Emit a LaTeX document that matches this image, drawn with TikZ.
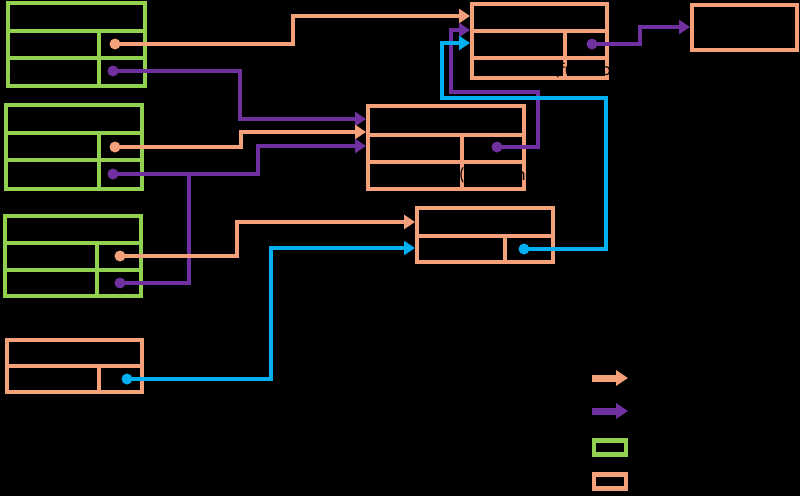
\documentclass[tikz,border=0pt]{standalone}
\usepackage{fontspec}
\setmainfont{Carlito}
\newfontfamily\cjk{Noto Sans CJK SC}
\usetikzlibrary{arrows.meta}
\definecolor{cgreen}{HTML}{92D050}
\definecolor{corange}{HTML}{F4A07A}
\definecolor{cpurple}{HTML}{7030A0}
\definecolor{cblue}{HTML}{00B0F0}
\begin{document}
\begin{tikzpicture}[x=1pt,y=-1pt,
  gbox/.style={draw=cgreen, line width=4pt, outer sep=0pt, inner sep=0pt},
  obox/.style={draw=corange, line width=4pt, outer sep=0pt, inner sep=0pt},
  gdiv/.style={draw=cgreen, line width=4pt},
  odiv/.style={draw=corange, line width=4pt},
  lbl/.style={font=\fontsize{18}{20}\selectfont, text=black, inner sep=0pt},
  leg/.style={font=\cjk\fontsize{15}{17}\selectfont, text=black, inner sep=0pt, anchor=west},
  conn/.style={line width=4.6pt, line join=miter},
  tip/.style={-{Triangle[length=11pt,width=14pt]}},
  oline/.style={conn, draw=corange},
  pline/.style={conn, draw=cpurple},
  bline/.style={conn, draw=cblue},
  odot/.style={circle, fill=corange, minimum size=11pt, inner sep=0pt},
  pdot/.style={circle, fill=cpurple, minimum size=11pt, inner sep=0pt},
  bdot/.style={circle, fill=cblue, minimum size=11pt, inner sep=0pt},
]
\fill[black] (0,0) rectangle (800,496);
\useasboundingbox (0,0) rectangle (800,496);

% ---------- boxes ----------
\node[gbox, minimum width=137pt, minimum height=83pt] (objBox) at (76,44) {};
\draw[gdiv] (objBox.west |- 0,31) -- (objBox.east |- 0,31);
\draw[gdiv] (objBox.west |- 0,58) -- (objBox.east |- 0,58);
\draw[gdiv] (99,31) -- (objBox.south -| 99,0);

\node[gbox, minimum width=136pt, minimum height=84pt] (funBox) at (73.5,146.5) {};
\draw[gdiv] (funBox.west |- 0,133) -- (funBox.east |- 0,133);
\draw[gdiv] (funBox.west |- 0,160) -- (funBox.east |- 0,160);
\draw[gdiv] (99,133) -- (funBox.south -| 99,0);

\node[gbox, minimum width=136pt, minimum height=80pt] (fBox) at (72.5,255.5) {};
\draw[gdiv] (fBox.west |- 0,243) -- (fBox.east |- 0,243);
\draw[gdiv] (fBox.west |- 0,270) -- (fBox.east |- 0,270);
\draw[gdiv] (97,243) -- (fBox.south -| 97,0);

\node[obox, minimum width=135pt, minimum height=52pt] (f1Box) at (74,365.5) {};
\draw[odiv] (f1Box.west |- 0,366) -- (f1Box.east |- 0,366);
\draw[odiv] (99,366) -- (f1Box.south -| 99,0);

\node[obox, minimum width=135pt, minimum height=74pt] (opBox) at (539,40.5) {};
\draw[odiv] (opBox.west |- 0,31) -- (opBox.east |- 0,31);
\draw[odiv] (opBox.west |- 0,58) -- (opBox.east |- 0,58);
\draw[odiv] (565,31) -- (opBox.south -| 565,0);

\node[obox, minimum width=156pt, minimum height=83pt] (fpBox) at (445.5,147) {};
\draw[odiv] (fpBox.west |- 0,135) -- (fpBox.east |- 0,135);
\draw[odiv] (fpBox.west |- 0,162) -- (fpBox.east |- 0,162);
\draw[odiv] (462,135) -- (fpBox.south -| 462,0);

\node[obox, minimum width=136pt, minimum height=54pt] (fprBox) at (484.5,234.5) {};
\draw[odiv] (fprBox.west |- 0,236) -- (fprBox.east |- 0,236);
\draw[odiv] (505,236) -- (fprBox.south -| 505,0);

\node[obox, minimum width=105pt, minimum height=45pt] (nullBox) at (744,27) {};

% ---------- labels ----------
\node[lbl] (tObj) at (66,17) {Object};
\node[lbl] (tObjP) at (48,44) {prototype};
\node[lbl] (tObjQ) at (48,71) {\_\_proto\_\_};
\node[lbl] (tFun) at (70,119) {Function};
\node[lbl] (tFunP) at (48,147) {prototype};
\node[lbl] (tFunQ) at (48,174) {\_\_proto\_\_};
\node[lbl] (tf) at (65,228) {f};
\node[lbl] (tfP) at (45,256) {prototype};
\node[lbl] (tfQ) at (46,283) {\_\_proto\_\_};
\node[lbl] (tf1) at (72,352) {f1};
\node[lbl] (tf1Q) at (53,379) {\_\_proto\_\_};
\node[lbl] (tOp) at (540,17) {Object.prototype};
\node[lbl] (tOpQ) at (513,45) {\_\_proto\_\_};
\node[lbl] (tOpA) at (517,70) {a};
\node[lbl] (tOpF) at (590,70) {(function)};
\node[lbl] (tFp) at (445,120) {Function.prototype};
\node[lbl] (tFpQ) at (410,147) {\_\_proto\_\_};
\node[lbl] (tFpB) at (413,176) {b};
\node[lbl] (tFpF) at (495,175) {(function)};
\node[lbl] (tFr) at (490,222) {f.prototype};
\node[lbl] (tFrQ) at (459,249) {\_\_proto\_\_};
\node[lbl] (tNull) at (738,27) {null};

% ---------- connector start points ----------
\coordinate (cObjP) at (115,44);
\coordinate (cObjQ) at (113,71);
\coordinate (cFunP) at (115,147);
\coordinate (cFunQ) at (113,174);
\coordinate (cfP) at (120,256);
\coordinate (cfQ) at (120,283);
\coordinate (cf1Q) at (127,379);
\coordinate (cOpQ) at (592,44);
\coordinate (cFpQ) at (497,147);
\coordinate (cFrQ) at (524,249);
\coordinate (cJoin) at (189,174);

% ---------- purple: __proto__ ----------
\draw[pline, tip] (cObjQ) -- (240,71) -- (240,119) -- ([xshift=-1.5pt]fpBox.west |- 0,119);
\draw[pline, tip] (cFunQ) -- (258,174) -- (258,146) -- ([xshift=-1.5pt]fpBox.west |- 0,146);
\draw[pline] (cfQ) -- (189,283) -- (cJoin);
\draw[pline, tip] (cFpQ) -- (538,147) -- (538,92) -- (451,92) -- (451,30) -- ([xshift=-1.5pt]opBox.west |- 0,30);
\draw[pline, tip] (cOpQ) -- (640,44) -- (640,27) -- ([xshift=-1.5pt]nullBox.west |- 0,27);

% ---------- blue ----------
\draw[bline, tip] (cf1Q) -- (271,379) -- (271,248) -- ([xshift=-1.5pt]fprBox.west |- 0,248);
\draw[bline, tip] (cFrQ) -- (606,249) -- (606,98) -- (442,98) -- (442,43) -- ([xshift=-1.5pt]opBox.west |- 0,43);

% ---------- orange: prototype ----------
\draw[oline, tip] (cObjP) -- (293,44) -- (293,16) -- ([xshift=-1.5pt]opBox.west |- 0,16);
\draw[oline, tip] (cFunP) -- (241,147) -- (241,132) -- ([xshift=-1.5pt]fpBox.west |- 0,132);
\draw[oline, tip] (cfP) -- (237,256) -- (237,222) -- ([xshift=-1.5pt]fprBox.west |- 0,222);

% ---------- dots ----------
\node[odot] (dObjP) at (cObjP) {};
\node[pdot] (dObjQ) at (cObjQ) {};
\node[odot] (dFunP) at (cFunP) {};
\node[pdot] (dFunQ) at (cFunQ) {};
\node[odot] (dfP) at (cfP) {};
\node[pdot] (dfQ) at (cfQ) {};
\node[bdot] (df1Q) at (cf1Q) {};
\node[pdot] (dOpQ) at (cOpQ) {};
\node[pdot] (dFpQ) at (cFpQ) {};
\node[bdot] (dFrQ) at (cFrQ) {};

% ---------- legend ----------
\coordinate (lgA1s) at (592,378);
\coordinate (lgA1e) at (628,378);
\coordinate (lgA2s) at (592,411);
\coordinate (lgA2e) at (628,411);
\draw[draw=corange, line width=7pt, -{Triangle[length=12pt,width=15pt]}] (lgA1s) -- (lgA1e);
\draw[draw=cpurple, line width=7pt, -{Triangle[length=12pt,width=15pt]}] (lgA2s) -- (lgA2e);
\node[gbox, line width=4.5pt, minimum width=32pt, minimum height=14pt] (lgG) at (610,447.5) {};
\node[obox, line width=4.5pt, minimum width=32pt, minimum height=14pt] (lgO) at (610,481.5) {};
\node[leg] (lgT1) at (643,379) {构造函数原型};
\node[leg] (lgT2) at (643,412) {对象隐式原型/原型链};
\node[leg] (lgT3) at (643,448) {构造函数};
\node[leg] (lgT4) at (643,481) {普通对象};
\end{tikzpicture}
\end{document}
